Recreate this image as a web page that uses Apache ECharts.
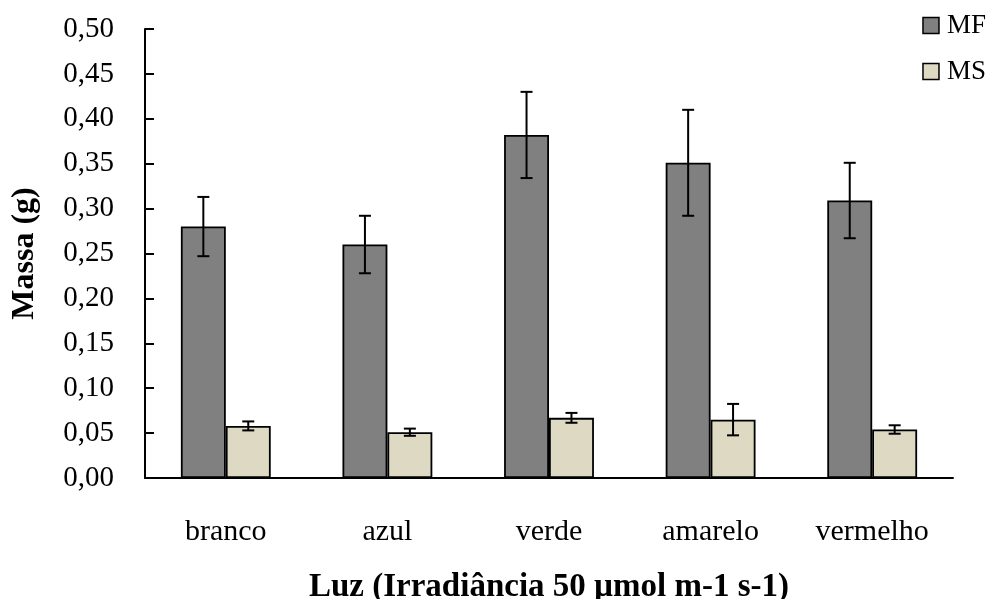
<!DOCTYPE html>
<html>
<head>
<meta charset="utf-8">
<title></title>
<style>
	* { margin: 0; padding: 0; }
	html, body { width: 100%; height: 100%; background: #fff; }
	#main { width: 999px; height: 599px; }
</style>
</head>
<body>
<div id="main"></div>
<script src="https://cdn.jsdelivr.net/npm/echarts@6/dist/echarts.min.js"></script>
<script>
var categories = ['branco', 'azul', 'verde', 'amarelo', 'vermelho']
var mfValues = [0.280, 0.260, 0.382, 0.351, 0.309]
var mfErrors = [0.033, 0.032, 0.048, 0.059, 0.042]
var msValues = [0.058, 0.051, 0.067, 0.065, 0.054]
var msErrors = [0.005, 0.004, 0.0055, 0.0175, 0.0047]
var yTicks = [0, 0.05, 0.10, 0.15, 0.20, 0.25, 0.30, 0.35, 0.40, 0.45, 0.50]

var catGap = 0.444
var font = 'Liberation Serif, Times New Roman, serif'

function errData(vals, errs) {
	var out = []
	for (let i = 0; i < vals.length; i++) {
		out.push([i, vals[i] - errs[i], vals[i] + errs[i]])
	}
	return out
}

function errSeries(name, vals, errs, side) {
	return {
		type: 'custom',
		name: name + ' err',
		data: errData(vals, errs),
		z: 10,
		silent: true,
		renderItem: function(params, api) {
			var band = api.size([1, 0])[0]
			var barW = band * (1 - catGap) / 2
			var lo = api.coord([api.value(0), api.value(1)])
			var hi = api.coord([api.value(0), api.value(2)])
			var x = lo[0] + side * barW / 2
			var cap = 6
			var st = { stroke: '#000', lineWidth: 2 }
			return {
				type: 'group',
				children: [
					{ type: 'line', shape: { x1: x, y1: lo[1], x2: x, y2: hi[1] }, style: st },
					{ type: 'line', shape: { x1: x - cap, y1: lo[1], x2: x + cap, y2: lo[1] }, style: st },
					{ type: 'line', shape: { x1: x - cap, y1: hi[1], x2: x + cap, y2: hi[1] }, style: st }
				]
			}
		}
	}
}

var myChart = echarts.init(document.getElementById('main'))
var option = {
	animation: false,
	textStyle: { fontFamily: font },
	grid: { left: 145, right: 46, top: 29, bottom: 121, outerBoundsMode: 'none', containLabel: false },
	legend: {
		orient: 'vertical',
		right: 8,
		top: 7,
		icon: 'rect',
		itemWidth: 16,
		itemHeight: 16,
		itemGap: 19,
		data: ['MF', 'MS'],
		itemStyle: { borderColor: '#000', borderWidth: 1.5 },
		textStyle: { fontFamily: font, fontSize: 27, color: '#000', padding: [0, 0, 0, 3] }
	},
	xAxis: {
		type: 'category',
		data: categories,
		name: 'Luz (Irradiância 50 µmol m-1 s-1)',
		nameLocation: 'middle',
		nameGap: 93,
		nameTextStyle: { fontFamily: font, fontSize: 33, fontWeight: 'bold', color: '#000' },
		axisLine: { lineStyle: { color: '#000', width: 2 } },
		axisTick: { inside: true, length: 9, lineStyle: { color: '#000', width: 2 } },
		axisLabel: { fontFamily: font, fontSize: 30, color: '#000', margin: 39 }
	},
	yAxis: {
		type: 'value',
		min: 0,
		max: 0.5,
		interval: 0.05,
		name: 'Massa (g)',
		nameLocation: 'middle',
		nameGap: 104,
		nameTextStyle: { fontFamily: font, fontSize: 32, fontWeight: 'bold', color: '#000' },
		splitLine: { show: false },
		axisLine: { show: true, lineStyle: { color: '#000', width: 2 } },
		axisTick: { show: true, inside: true, length: 9, lineStyle: { color: '#000', width: 2 } },
		axisLabel: {
			fontFamily: font, fontSize: 29, color: '#000', margin: 31,
			customValues: yTicks,
			formatter: function(v) { return v.toFixed(2).replace('.', ',') }
		}
	},
	series: [
		{
			name: 'MF', type: 'bar', data: mfValues,
			barGap: '0%', barCategoryGap: (catGap * 100) + '%',
			itemStyle: { color: '#808080', borderColor: '#000', borderWidth: 1.8 }
		},
		{
			name: 'MS', type: 'bar', data: msValues,
			itemStyle: { color: '#ddd9c3', borderColor: '#000', borderWidth: 1.8 }
		},
		errSeries('MF', mfValues, mfErrors, -1),
		errSeries('MS', msValues, msErrors, 1)
	]
}
myChart.setOption(option)
</script>
</body>
</html>
